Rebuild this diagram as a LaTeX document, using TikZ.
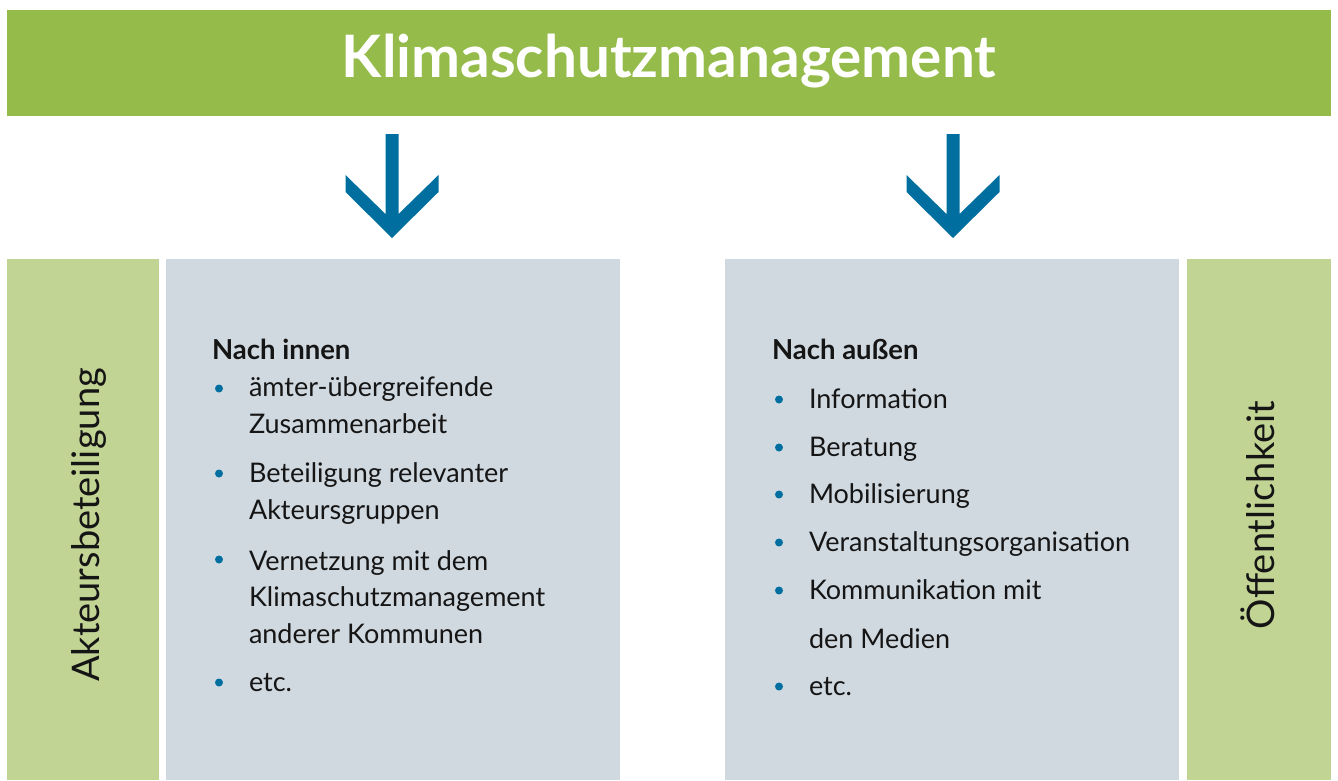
\documentclass[tikz,border=0pt]{standalone}
\usepackage{fontspec}
\setmainfont{Lato}
\definecolor{bannergreen}{HTML}{95BB4A}
\definecolor{palegreen}{HTML}{C2D494}
\definecolor{panelgrey}{HTML}{D0D9E0}
\definecolor{accentblue}{HTML}{006FA0}
\definecolor{bodytext}{HTML}{151515}
\begin{document}
\begin{tikzpicture}[x=1pt,y=-1pt,
  every node/.style={inner sep=0pt, outer sep=0pt},
  band/.style={fill=bannergreen, anchor=north west},
  sidebar/.style={fill=palegreen, anchor=north west, minimum height=521pt},
  panel/.style={fill=panelgrey, anchor=north west, minimum width=454pt, minimum height=521pt},
  sidelabel/.style={rotate=90, anchor=base, text=bodytext, font=\fontsize{38}{44}\selectfont},
  heading/.style={anchor=base west, text=bodytext, font=\fontsize{27.5}{32}\bfseries\selectfont},
  % multi-line items are placed by the baseline of their last line
  itemtext/.style={anchor=base west, align=left, text=bodytext, font=\fontsize{27}{36.5}\selectfont},
  dot/.style={circle, fill=accentblue, minimum size=8pt},
  pics/downarrow/.style={code={
    \fill[accentblue] (-6.5,0) -- (6.5,0) -- (6.5,80) -- (46.5,41) -- (46.5,58)
      -- (0,104) -- (-46.5,58) -- (-46.5,41) -- (-6.5,80) -- cycle;
  }}]
\useasboundingbox (0,0) rectangle (1338,780);

% title band
\node[band, minimum width=1324pt, minimum height=106pt] (banner) at (7,10) {};
\node[anchor=base, text=white, font=\fontsize{58.5}{68}\bfseries\selectfont] (title) at (669,77) {Klimaschutzmanagement};

% arrows from the band down to both panels
\pic at (392,134) {downarrow};
\pic at (953,134) {downarrow};

% side bars and panels
\node[sidebar, minimum width=152pt] (leftbar) at (7,259) {};
\node[panel] (leftpanel) at (166,259) {};
\node[panel] (rightpanel) at (725,259) {};
\node[sidebar, minimum width=144pt] (rightbar) at (1187,259) {};

\node[sidelabel] (leftlabel) at (99,525) {Akteursbeteiligung};
\node[sidelabel] (rightlabel) at (1274,515) {Öffentlichkeit};

% inward list
\node[heading] (innerhead) at (212,359) {Nach innen};
\node[dot] (li1) at (219,388.5) {};
\node[itemtext] (lt1) at (249,433) {ämter-übergreifende\\Zusammenarbeit};
\node[dot] (li2) at (219,473.5) {};
\node[itemtext] (lt2) at (249,519) {Beteiligung relevanter\\Akteursgruppen};
\node[dot] (li3) at (219,559.5) {};
\node[itemtext] (lt3) at (249,643) {Vernetzung mit dem\\Klimaschutzmanagement\\anderer Kommunen};
\node[dot] (li4) at (219,682.5) {};
\node[itemtext] (lt4) at (249,691) {etc.};

% outward list
\node[heading] (outerhead) at (772,359) {Nach außen};
\node[dot] (ri1) at (779,399.5) {};
\node[itemtext] (rt1) at (809,408) {Information};
\node[dot] (ri2) at (779,447.5) {};
\node[itemtext] (rt2) at (809,456) {Beratung};
\node[dot] (ri3) at (779,494.5) {};
\node[itemtext] (rt3) at (809,503) {Mobilisierung};
\node[dot] (ri4) at (779,542.5) {};
\node[itemtext] (rt4) at (809,551) {Veranstaltungsorganisation};
\node[dot] (ri5) at (779,590.5) {};
\node[itemtext, font=\fontsize{27}{48.5}\selectfont] (rt5) at (809,648) {Kommunikation mit\\den Medien};
\node[dot] (ri6) at (779,686.5) {};
\node[itemtext] (rt6) at (809,695) {etc.};
\end{tikzpicture}
\end{document}
